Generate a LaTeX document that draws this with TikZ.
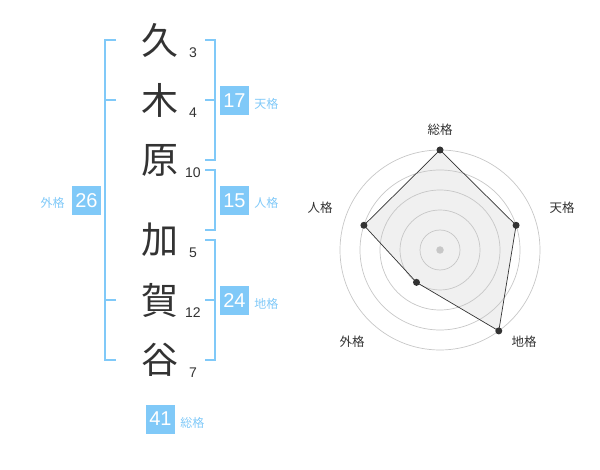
\documentclass[tikz,border=0pt]{standalone}
\usepackage{fontspec}
\setmainfont{Liberation Sans}
\newfontfamily\jp{Noto Sans CJK JP}
\usepackage{tikz}
\usetikzlibrary{positioning}
\definecolor{kakublue}{RGB}{128,201,248}
\definecolor{inkgray}{RGB}{51,51,51}

\begin{document}
\begin{tikzpicture}[x=1pt,y=-1pt,
   kanji/.style={font=\jp\fontsize{37}{37}\selectfont,text=inkgray,inner sep=0pt},
   strokes/.style={font=\fontsize{14}{14}\selectfont,text=inkgray,inner sep=0pt},
   kakubox/.style={fill=kakublue,text=white,minimum size=29pt,inner sep=0pt,font=\fontsize{20}{20}\selectfont},
   kakuname/.style={font=\jp\fontsize{12}{12}\selectfont,text=kakublue,inner sep=0pt},
   bracket/.style={draw=kakublue,line width=2pt},
   ring/.style={draw=black!22,line width=0.7pt},
   axisname/.style={font=\jp\fontsize{12.5}{12.5}\selectfont,text=inkgray,inner sep=0pt},
   dot/.style={circle,fill=inkgray,minimum size=7pt,inner sep=0pt}]
\useasboundingbox (0,0) rectangle (600,470);

   % name
   \node[kanji] (k1) at (160,40)  {久};
   \node[kanji] (k2) at (160,100) {木};
   \node[kanji] (k3) at (160,160) {原};
   \node[kanji] (k4) at (160,240) {加};
   \node[kanji] (k5) at (160,300) {賀};
   \node[kanji] (k6) at (160,360) {谷};
   \node[strokes] (s1) at (193,53)  {3};
   \node[strokes] (s2) at (193,113) {4};
   \node[strokes] (s3) at (193,173) {10};
   \node[strokes] (s4) at (193,253) {5};
   \node[strokes] (s5) at (193,313) {12};
   \node[strokes] (s6) at (193,373) {7};

   % brackets
   \path[bracket] (205,40) -| (215,160) -- (205,160)
                  (205,100) -- (215,100);
   \path[bracket] (205,170) -| (215,230) -- (205,230);
   \path[bracket] (205,240) -| (215,360) -- (205,360)
                  (205,300) -- (215,300);
   \path[bracket] (116,40) -| (105,360) -- (116,360)
                  (116,100) -- (105,100)
                  (116,300) -- (105,300);

   % scores
   \node[kakubox] (ten) at (234.5,100.5) {17};
   \node[kakubox] (jin) at (234.5,200.5) {15};
   \node[kakubox] (chi) at (234.5,300.5) {24};
   \node[kakubox] (gai) at (86.5,200.5)  {26};
   \node[kakubox] (sou) at (160.5,419)   {41};
   \node[kakuname,right=5pt of ten,yshift=-3.5pt] {天格};
   \node[kakuname,right=5pt of jin,yshift=-2.5pt] {人格};
   \node[kakuname,right=5pt of chi,yshift=-3.5pt] {地格};
   \node[kakuname,left=7pt of gai,yshift=-2.5pt]  {外格};
   \node[kakuname,right=5pt of sou,yshift=-3.5pt] {総格};

   % radar
   \coordinate (o) at (440,250);
   \path (o) ++(90:100pt) coordinate (rsou)
         (o) ++(18:80pt) coordinate (rten)
         (o) ++(-54:100pt) coordinate (rchi)
         (o) ++(-126:40pt) coordinate (rgai)
         (o) ++(162:80pt) coordinate (rjin);
   \fill[black!6] (rsou) -- (rten) -- (rchi) -- (rgai) -- (rjin) -- cycle;
   \foreach \r in {20,40,60,80,100}
      \draw[ring] (o) circle[radius=\r pt];
   \draw[inkgray,line width=0.7pt]
      (rsou) -- (rten) -- (rchi) -- (rgai) -- (rjin) -- cycle;
   \node[circle,fill=black!22,minimum size=7.5pt,inner sep=0pt] at (o) {};
   \foreach \p in {rsou,rten,rchi,rgai,rjin}
      \node[dot] at (\p) {};
   \node[axisname] (lsou) at (440,130) {総格};
   \node[axisname] (lten) at (562,208) {天格};
   \node[axisname] (lchi) at (524,342) {地格};
   \node[axisname] (lgai) at (352,342) {外格};
   \node[axisname] (ljin) at (320,208) {人格};
\end{tikzpicture}
\end{document}
